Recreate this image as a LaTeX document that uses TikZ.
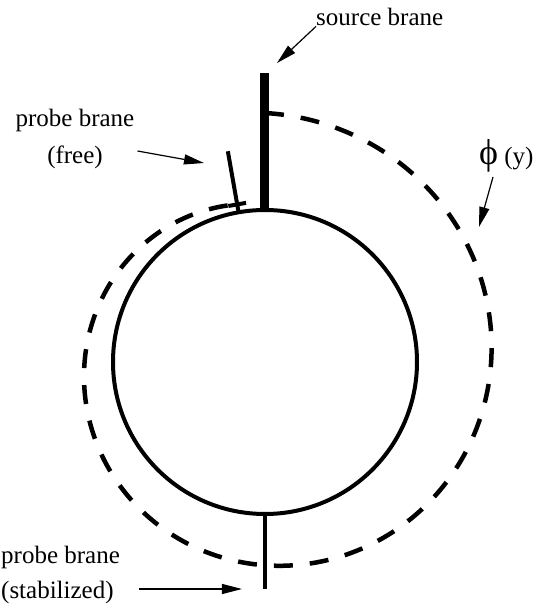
\documentclass[tikz,border=0pt]{standalone}
\usepackage{fontspec}
\setmainfont{Liberation Serif}
\usetikzlibrary{arrows.meta}

\begin{document}
\begin{tikzpicture}[x=1pt, y=1pt,
  lbl/.style={inner sep=0pt, font=\fontsize{25}{37}\selectfont},
  ptr/.style={-{Triangle[length=20pt, width=10pt]}, line width=1.2pt},
  brane/.style={line width=4pt},
  bulk/.style={line width=4.5pt, dash pattern=on 19pt off 17pt}
]
\useasboundingbox (-265,-243) rectangle (270,362);

% extra dimension and the branes on it
\node[circle, draw, line width=4pt, minimum size=304pt, inner sep=0pt, outer sep=0pt] (orb) at (0,0) {};
\draw[line width=9pt] (orb.north) -- ++(0,137) coordinate (srctop);
\draw[brane] (orb.100) -- ++(100:62) coordinate (freetop);
\draw[brane] (orb.south) -- ++(0,-75) coordinate (stabbot);

% profile of the field
\draw[bulk] plot[variable=\t, domain=0:347, samples=200, smooth]
  ({(249-0.254*\t)*sin(\t)}, {(249-0.254*\t)*cos(\t)});
\draw[brane] ([shift={(10:9)}]100:160) -- ([shift={(190:9)}]100:160);

% labels
\node[lbl, anchor=base west] (srclbl) at (51,336) {source brane};
\coordinate (srctip) at (12,299);
\draw[ptr] (srclbl.south west) -- (srctip);

\node[lbl, align=center] (freelbl) at (-190,223) {probe brane\\(free)};
\coordinate (freetip) at (-61,199);
\draw[ptr] ([shift={(3,-12)}]freelbl.east) -- (freetip);

\node[lbl, align=left, anchor=west, font=\fontsize{25}{35}\selectfont] (stablbl) at (-264,-213)
  {probe brane\\(stabilized)};
\coordinate (stabtip) at (-23,-227);
\draw[ptr] ([shift={(19,-14)}]stablbl.east) -- (stabtip);

\node[lbl, anchor=base west] (philbl) at (214,197) {{\fontsize{36}{36}\selectfont ϕ} (y)};
\coordinate (phitip) at (214,135);
\draw[ptr] ([shift={(14,-12)}]philbl.base west) -- (phitip);
\end{tikzpicture}
\end{document}
